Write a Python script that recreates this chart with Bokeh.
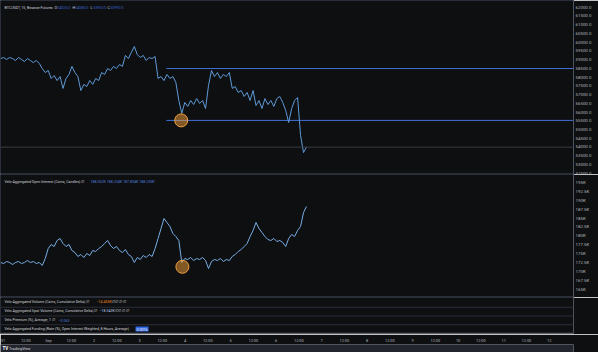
from bokeh.plotting import figure
from bokeh.layouts import column
from bokeh.models import Range1d, LinearAxis, FixedTicker, Label, Span, PrintfTickFormatter
from bokeh.embed import file_html
from bokeh.resources import INLINE

# ---------------- data ----------------
# time axis: hours relative to 1 Sep 00:00, one sample every 1.5 h
start_hour = -25.2
step_hours = 1.5

btc_close = [59060, 59120, 59010, 59120, 59060, 58950, 59120, 59010, 58890, 59060,
             58950, 58830, 58950, 58780, 58490, 58260, 58380, 57920, 58090, 57800,
             58030, 57350, 57920, 58150, 58610, 58260, 58030, 57230, 57580, 57460,
             57800, 57580, 57920, 57800, 58260, 58150, 58490, 58380, 58610, 58490,
             58720, 58610, 59240, 59060, 59410, 59750, 59290, 59120, 59240, 58950,
             59120, 59060, 59180, 57920, 58030, 57800, 58150, 57920, 58030, 57690,
             56660, 55920, 56550, 56320, 56660, 56430, 56770, 56490, 56660, 56200,
             57520, 58380, 58030, 58260, 57920, 58150, 58030, 58260, 57350, 57460,
             57120, 57230, 56890, 57120, 56660, 57230, 56370, 56660, 56200, 56770,
             56430, 56660, 56320, 56770, 56890, 56550, 56090, 55400, 56200, 56660,
             56830, 54660, 53680, 53990]

oi_k = [172.50, 172.22, 172.78, 172.50, 171.94, 172.50, 172.78, 172.22, 172.50, 173.06,
        172.50, 172.78, 172.22, 172.50, 171.66, 173.62, 176.43, 177.56, 176.99, 178.68,
        179.24, 177.84, 176.99, 177.56, 175.87, 175.31, 174.19, 174.75, 173.90, 175.03,
        174.47, 175.87, 175.59, 176.43, 176.99, 177.84, 178.68, 177.28, 176.43, 176.99,
        175.87, 175.31, 176.15, 174.75, 174.19, 172.50, 173.90, 173.34, 174.47, 173.90,
        174.75, 174.19, 176.43, 179.24, 182.05, 184.86, 183.74, 182.61, 180.65, 179.80,
        178.68, 172.50, 173.62, 173.34, 173.90, 173.06, 173.62, 173.34, 173.90, 173.06,
        170.81, 172.78, 173.34, 173.06, 173.62, 172.78, 173.34, 173.06, 174.19, 174.75,
        175.59, 176.15, 176.99, 177.84, 179.80, 181.49, 183.74, 182.05, 180.93, 179.80,
        178.96, 178.68, 179.24, 178.40, 178.68, 178.12, 176.99, 179.24, 180.37, 179.80,
        181.49, 182.61, 186.55, 188.23]

price_ticks = [62000, 61500, 61000, 60500, 60000, 59500, 59000, 58500, 58000, 57500,
               57000, 56500, 56000, 55500, 55000, 54500, 54000, 53500, 53000, 52500]
oi_ticks = [195, 192.5, 190, 187.5, 185, 182.5, 180, 177.5, 175, 172.5, 170, 167.5, 165]
oi_tick_labels = ["195K", "192.5K", "190K", "187.5K", "185K", "182.5K", "180K",
                  "177.5K", "175K", "172.5K", "170K", "167.5K", "165K"]
time_ticks = [-24, -12, 0, 12, 24, 36, 48, 60, 72, 84, 96, 108, 120, 132, 144, 156,
              168, 180, 192, 204, 216, 228, 240, 252, 264]
time_labels = ["31", "12:00", "Sep", "12:00", "2", "12:00", "3", "12:00", "4", "12:00",
               "5", "12:00", "6", "12:00", "7", "12:00", "8", "12:00", "9", "12:00",
               "10", "12:00", "11", "12:00", "12"]

level_prices = [58490, 55520]
level_start_hours = [58.5, 58.5]
last_price = 53990
touch_hours = [66.0]
touch_prices = [55520]
oi_touch_hours = [66.6]
oi_touch_values = [171.3]
last_oi = 188.23

hours = [start_hour + i * step_hours for i in range(len(btc_close))]

# ---------------- styling / layout ----------------
BG = "#0e0f11"
TXT = "#d1d4dc"
AX = "#b2b5be"
SEP = "#2a2e39"
AXLINE = "#50535e"
LINE = "#5e9ad8"
BLUE_TAG = "#2f66e0"
FOOT = "#22252d"
FONT = "Roboto"
FS = "3.6px"
AFS = "4.4px"

W = 598
FRAME_W = 573
X0, X1 = -25.3, 264.2
xr = Range1d(X0, X1)

H_MAIN, H_OI, H_IND, H_FOOT = 174, 123, 37, 18
P_TOP = 62383.5
P_BOT = P_TOP - H_MAIN * 57.24
O_TOP, O_BOT = 197.22, 162.67


def hx(px):
    return X0 + px * (X1 - X0) / FRAME_W


def py(px):
    return P_TOP - px * (P_TOP - P_BOT) / H_MAIN


def oy(px):
    return O_TOP - px * (O_TOP - O_BOT) / H_OI


def make_fig(h, yr, bottom=0):
    f = figure(width=W, height=h, x_range=xr, y_range=yr, output_backend="svg",
               toolbar_location=None, x_axis_location=None, y_axis_location=None,
               min_border_left=0, min_border_top=0, min_border_right=W - FRAME_W,
               min_border_bottom=bottom)
    f.background_fill_color = BG
    f.border_fill_color = BG
    f.outline_line_color = SEP
    f.grid.visible = False
    return f


def style_axis(ax):
    ax.axis_line_color = AXLINE
    ax.major_tick_line_color = None
    ax.minor_tick_line_color = None
    ax.major_tick_out = 0
    ax.major_tick_in = 0
    ax.minor_tick_out = 0
    ax.minor_tick_in = 0
    ax.major_label_text_font = FONT
    ax.major_label_text_font_size = AFS
    ax.major_label_text_color = AX
    ax.major_label_standoff = 2


def lab(f, x, y, text, color=TXT, bold=False, bg=None, size=FS):
    l = Label(x=x, y=y, text=text, text_color=color, text_font=FONT, text_font_size=size,
              text_baseline="middle", text_align="left",
              text_font_style="bold" if bold else "normal")
    if bg is not None:
        l.background_fill_color = bg
        l.padding = 1
    f.add_layout(l)


# ---------------- main price pane ----------------
p1 = make_fig(H_MAIN, Range1d(P_BOT, P_TOP))
ax1 = LinearAxis(ticker=FixedTicker(ticks=price_ticks), formatter=PrintfTickFormatter(format="%.1f"))
style_axis(ax1)
p1.add_layout(ax1, "right")

p1.add_layout(Span(location=last_price, dimension="width", line_color="#3a3d45", line_width=1))
p1.segment(x0=level_start_hours, y0=level_prices, x1=[X1 + 5] * len(level_prices), y1=level_prices,
           line_color="#3f6fd8", line_width=1)
p1.line(hours, btc_close, line_color=LINE, line_width=1)
p1.scatter(touch_hours, touch_prices, size=13, fill_color="#f5a13a", fill_alpha=0.5,
           line_color="#f0a040", line_width=1)

lab(p1, hx(4), py(7), "BTCUSDT, 15, Binance Futures")
for px, letter, val in [(54, "O", "54026.0"), (72, "H", "54080.0"), (90, "L", "53950.0"), (107, "C", "53990.0")]:
    lab(p1, hx(px), py(7), letter)
    lab(p1, hx(px + 2.8), py(7), val, color="#3b63c9")

for pv in level_prices + [last_price]:
    lab(p1, hx(FRAME_W + 0.5), pv, "%.1f" % pv, color="white", bg=BLUE_TAG, size=AFS)

# ---------------- open interest pane ----------------
p2 = make_fig(H_OI, Range1d(O_BOT, O_TOP))
ax2 = LinearAxis(ticker=FixedTicker(ticks=oi_ticks),
                 major_label_overrides={t: s for t, s in zip(oi_ticks, oi_tick_labels)})
style_axis(ax2)
p2.add_layout(ax2, "right")
p2.line(hours, oi_k, line_color="#78aee6", line_width=1)
p2.scatter(oi_touch_hours, oi_touch_values, size=13, fill_color="#f5a13a", fill_alpha=0.5,
           line_color="#f0a040", line_width=1)
lab(p2, hx(4), oy(7), "Velo Aggregated Open Interest (Coins, Candles) \u2205")
lab(p2, hx(90), oy(7), "188.062K  188.234K  187.894K  188.230K", color="#4f7fd9")
lab(p2, hx(FRAME_W + 0.5), last_oi, "%.3fK" % last_oi, color="white", bg=BLUE_TAG, size=AFS)

# ---------------- small indicator panes ----------------
p3 = make_fig(H_IND, Range1d(0, 37), bottom=1)
ax3r = LinearAxis(ticker=FixedTicker(ticks=[]))
style_axis(ax3r)
p3.add_layout(ax3r, "right")
ax3b = LinearAxis(ticker=FixedTicker(ticks=[]))
style_axis(ax3b)
ax3b.axis_line_color = "#5d606b"
ax3b.axis_line_width = 1.5
ax3b.major_label_standoff = 0
p3.add_layout(ax3b, "below")
for loc in [27, 18, 9]:
    p3.add_layout(Span(location=loc, dimension="width", line_color=SEP, line_width=1))

rows = [
    (32.3, "Velo Aggregated Volume (Coins, Cumulative Delta) \u2205", 96, "\u221214.455K", "#f08a24", None, 111),
    (23.0, "Velo Aggregated Spot Volume (Coins, Cumulative Delta) \u2205", 99, "\u221218.543K", "#b8cdea", None, 114),
    (13.5, "Velo Premium (%), Average, 1 \u2205", 58, "\u22120.063", "#4f7fd9", None, None),
    (4.5, "Velo Aggregated Funding (Rate (%), Open Interest Weighted, 8 Hours, Average)", 135, "0.0016", "white", BLUE_TAG, None),
]
for y, t, vx, v, vc, vbg, sx in rows:
    lab(p3, hx(4), y, t)
    lab(p3, hx(vx), y, v, color=vc, bg=vbg)
    if sx is not None:
        lab(p3, hx(sx), y, "\u2205 \u2205 \u2205 \u2205")

# ---------------- time axis + footer ----------------
xr_full = Range1d(X0, X0 + (X1 - X0) * W / FRAME_W)
p4 = figure(width=W, height=H_FOOT, x_range=xr_full, y_range=Range1d(0, 8),
            output_backend="svg", toolbar_location=None, x_axis_location=None,
            y_axis_location=None, min_border_left=0, min_border_right=0,
            min_border_bottom=0, min_border_top=10)
p4.background_fill_color = FOOT
p4.border_fill_color = BG
p4.outline_line_color = None
p4.grid.visible = False
ax4 = LinearAxis(ticker=FixedTicker(ticks=time_ticks),
                 major_label_overrides={t: s for t, s in zip(time_ticks, time_labels)})
style_axis(ax4)
ax4.axis_line_color = None
ax4.major_label_text_font_size = "3.9px"
ax4.major_label_standoff = 2
p4.add_layout(ax4, "above")
p4.add_layout(Label(x=hx(2), y=4, text="TV", text_color="white", text_font=FONT,
                    text_font_size="4.5px", text_font_style="bold", text_baseline="middle"))
p4.add_layout(Label(x=hx(9), y=4, text="TradingView", text_color=TXT, text_font=FONT,
                    text_font_size="3.9px", text_baseline="middle"))

layout = column(p1, p2, p3, p4, spacing=0)
open("out.html", "w").write(file_html(layout, INLINE))
